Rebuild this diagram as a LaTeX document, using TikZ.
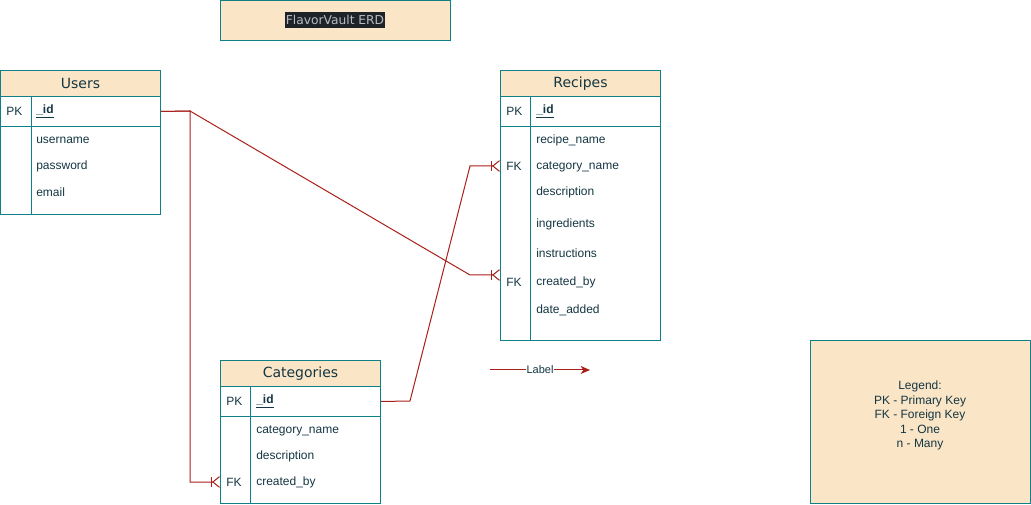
\documentclass[tikz,border=0pt]{standalone}
\usepackage{fontspec}
\setmainfont{Liberation Sans}
\newfontfamily\djv{DejaVu Sans}
\usetikzlibrary{arrows.meta}
\definecolor{teal}{HTML}{0E8088}
\definecolor{peach}{HTML}{FAE5C7}
\definecolor{ink}{HTML}{143642}
\definecolor{rel}{HTML}{A8201A}
\definecolor{hlbg}{HTML}{1F2329}
\definecolor{hlfg}{HTML}{B7BCC4}
\tikzset{
  box/.style={draw=teal, line width=0.75pt, rectangle, inner sep=0pt, anchor=north west},
  hdr/.style={box, fill=peach, text=ink, font=\djv\fontsize{10.5pt}{12pt}\selectfont, minimum width=120pt, minimum height=19.5pt},
  fld/.style={anchor=west, inner sep=0pt, text=ink, font=\fontsize{9pt}{11pt}\selectfont},
  keyf/.style={fld, font=\bfseries\fontsize{9pt}{11pt}\selectfont},
  anchorrow/.style={anchor=west, inner sep=0pt, minimum width=120pt, minimum height=1pt},
  relline/.style={draw=rel, line width=0.75pt},
  erMany/.style={relline, -{Bar[width=7pt,line width=0.75pt]Straight Barb[reversed,length=5pt,width=8pt,line width=0.75pt]}},
}
\begin{document}
\begin{tikzpicture}[x=0.75pt,y=-0.75pt]
\useasboundingbox (0,0) rectangle (1031,505);

% Title
\node[box, fill=peach, minimum width=172.5pt, minimum height=30pt] (title) at (220,0.5) {};
\node[fill=hlbg, text=hlfg, inner xsep=0.8pt, inner ysep=2.2pt, font=\djv\fontsize{9.2pt}{11pt}\selectfont] (titletext) at (335,20) {FlavorVault ERD};

% Users
\node[hdr] (usersH) at (0,70) {Users};
\node[box, minimum width=120pt, minimum height=22.5pt] (usersPK) at (0,96) {};
\node[box, minimum width=120pt, minimum height=66pt] (usersB) at (0,126) {};
\draw[draw=teal, line width=0.75pt] (31,96) -- (31,214);
\node[fld] (uPKl) at (6,111.5) {PK};
\node[keyf] (uid) at (36,111.5) {\underline{\_id}};
\node[fld] (u1) at (36,140.5) {username};
\node[fld] (u2) at (36,166.5) {password};
\node[fld] (u3) at (36,192.5) {email};

% Recipes
\node[hdr] (recH) at (500,70) {Recipes};
\node[box, minimum width=120pt, minimum height=22.5pt] (recPK) at (500,96) {};
\node[box, minimum width=120pt, minimum height=160.5pt] (recB) at (500,126) {};
\draw[draw=teal, line width=0.75pt] (530,96) -- (530,340);
\node[fld] (rPKl) at (506,111.5) {PK};
\node[keyf] (rid) at (536,111.5) {\underline{\_id}};
\node[fld] (r1) at (536,140.5) {recipe\_name};
\node[fld] (rFK1) at (506,166.5) {FK};
\node[fld] (r2) at (536,166.5) {category\_name};
\node[fld] (r3) at (536,192.5) {description};
\node[fld] (r4) at (536,224.5) {ingredients};
\node[fld] (r5) at (536,253.5) {instructions};
\node[fld] (rFK2) at (506,282.5) {FK};
\node[fld] (r6) at (536,282.5) {created\_by};
\node[fld] (r7) at (536,310.5) {date\_added};
\node[anchorrow] (recCat) at (500,166) {};
\node[anchorrow] (recBy) at (500,275) {};

% Categories
\node[hdr] (catH) at (220,360) {Categories};
\node[box, minimum width=120pt, minimum height=22.5pt] (catPK) at (220,386) {};
\node[box, minimum width=120pt, minimum height=65pt] (catB) at (220,416) {};
\draw[draw=teal, line width=0.75pt] (250,386) -- (250,502.7);
\node[fld] (cPKl) at (226,401.5) {PK};
\node[keyf] (cid) at (256,401.5) {\underline{\_id}};
\node[fld] (c1) at (256,430.5) {category\_name};
\node[fld] (c2) at (256,456.5) {description};
\node[fld] (cFK) at (226,482.5) {FK};
\node[fld] (c3) at (256,482.5) {created\_by};
\node[anchorrow] (catBy) at (220,482) {};

% Relations
\draw[erMany] (usersPK.east) -- (190,111) -- (470,275) -- (recBy.west);
\draw[erMany] (usersPK.east) -- (190,111) -- (190,482) -- (catBy.west);
\draw[erMany] (catPK.east) -- (410,401) -- (470,166) -- (recCat.west);

% Label arrow
\coordinate (la) at (490,370);
\coordinate (lb) at (590,370);
\draw[relline, -{Stealth[length=7pt,width=6pt,inset=2pt]}] (la) -- node[fill=white, inner sep=0.5pt, text=ink, font=\fontsize{8.25pt}{10pt}\selectfont] (lbl) {Label} (lb);

% Legend
\node[box, fill=peach, minimum width=165pt, minimum height=122.2pt] (legend) at (810,340) {};
\node[align=center, text=ink, font=\fontsize{9pt}{10.9pt}\selectfont, inner sep=0pt] (legtext) at (920,415.5) {Legend:\\PK - Primary Key\\FK - Foreign Key\\1 - One\\n - Many};
\end{tikzpicture}
\end{document}
